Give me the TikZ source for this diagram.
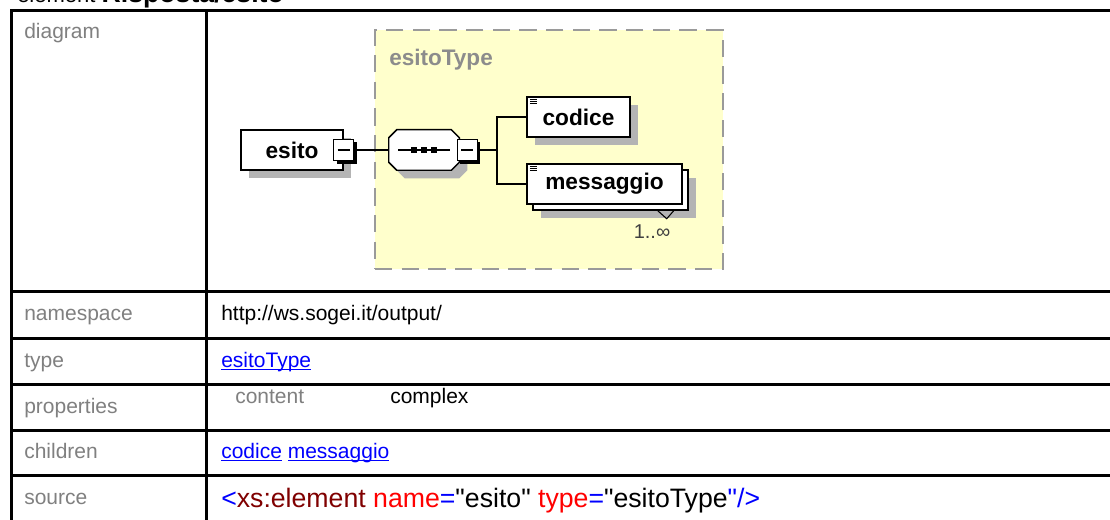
\documentclass[tikz,border=0pt]{standalone}
\usepackage{fontspec}
\setmainfont{Liberation Sans}[Ligatures=TeXOff]
\usetikzlibrary{shadows}
\definecolor{labelgray}{HTML}{808080}
\definecolor{typegray}{HTML}{8C8C8C}
\definecolor{linkblue}{HTML}{0000FF}
\definecolor{tagred}{HTML}{800000}
\definecolor{attrred}{HTML}{FF0000}
\definecolor{boxyellow}{HTML}{FFFFCC}
\definecolor{dashgray}{HTML}{9A9A9A}
\definecolor{shadowgray}{HTML}{B4B4B4}
\newcommand{\xlink}[1]{\textcolor{linkblue}{\setbox0\hbox{#1}\rlap{\rule[-2.5pt]{\wd0}{0.8pt}}\box0}}

\begin{document}
\begin{tikzpicture}[x=0.75pt,y=-0.75pt,
    every node/.style={font=\fontsize{15.75}{18}\selectfont},
    rowlabel/.style={anchor=base west, inner sep=0pt, text=labelgray},
    rowtext/.style={anchor=base west, inner sep=0pt},
    grid/.style={line width=2.25pt},
    wire/.style={line width=1pt},
    onshadow/.style={drop shadow={shadow xshift=#1, shadow yshift=-#1, fill=shadowgray, opacity=1}},
    topbox/.style={draw, line width=1.1pt, fill=white, inner sep=0pt, minimum height=30pt,
        font=\fontsize{17}{20}\selectfont\bfseries},
    elembox/.style={topbox, path picture={
        \foreach \k in {1.8pt,3.4pt,5pt}
            \draw[line width=0.6pt] ([shift={(2.2pt,-\k)}]path picture bounding box.north west) -- +(5pt,0);}},
    minusbox/.style={draw, line width=0.7pt, fill=white, inner sep=0pt, minimum width=15pt, minimum height=16pt,
        drop shadow={shadow xshift=2.2pt, shadow yshift=-2.2pt, fill=black, opacity=1},
        path picture={\draw[line width=0.8pt] ([xshift=3pt]path picture bounding box.west) -- ([xshift=-3pt]path picture bounding box.east);}},
    seqbox/.style={inner sep=0pt, minimum width=52.5pt, minimum height=30pt},
    typebox/.style={draw=dashgray, line width=1.6pt, dash pattern=on 13pt off 7pt, fill=boxyellow}
]
\fill[white] (0,0) rectangle (1110,520);
\useasboundingbox (0,0) rectangle (1110,520);

\node[anchor=base west, inner sep=0pt, font=\fontsize{16.5}{18}\selectfont] (caption) at (17,3) {element \textbf{\fontsize{20}{22}\selectfont Risposta/esito}};

\draw[grid] (10,11) -- (1120,11);
\draw[grid] (11,10) -- (11,530);
\draw[grid] (206,10) -- (206,530);
\draw[grid] (10,292) -- (1120,292);
\draw[grid] (10,338) -- (1120,338);
\draw[grid] (10,384) -- (1120,384);
\draw[grid] (10,430) -- (1120,430);
\draw[grid] (10,475) -- (1120,475);

\node[rowlabel] (ldiagram) at (24,39) {diagram};
\node[rowlabel] (lnamespace) at (24,320.5) {namespace};
\node[rowlabel] (ltype) at (24,367) {type};
\node[rowlabel] (lproperties) at (24,413) {properties};
\node[rowlabel] (lchildren) at (24,458) {children};
\node[rowlabel] (lsource) at (24,504) {source};

\node[rowtext] (vnamespace) at (221,320.5) {http://ws.sogei.it/output/};
\node[rowtext] (vtype) at (221,367) {\xlink{esitoType}};
\node[rowtext, text=labelgray] (vcontentkey) at (235,403) {content};
\node[rowtext] (vcontent) at (390,403) {complex};
\node[rowtext] (vchildren) at (221,458) {\xlink{codice} \xlink{messaggio}};
\node[rowtext, font=\fontsize{20}{24}\selectfont] (vsource) at (221,507) {\textcolor{linkblue}{<}\textcolor{tagred}{xs:element} \textcolor{attrred}{name}\textcolor{linkblue}{=}"esito" \textcolor{attrred}{type}\textcolor{linkblue}{=}"esitoType\textcolor{linkblue}{"/>}};

\node[typebox, minimum width=261pt, minimum height=179.25pt] (typebg) at (549,149.5) {};
\node[anchor=base west, inner sep=0pt, text=typegray, font=\fontsize{16.9}{20}\selectfont\bfseries] (typename) at (389,66) {esitoType};

\node[topbox, onshadow=6pt, minimum width=76.5pt] (esito) at (292,150) {esito\hspace{10pt}};
\node[minusbox] (esitominus) at (esito.east) {};
\node[seqbox] (seq) at (424,150) {};
\path[draw, line width=1.1pt, fill=white, onshadow=6pt] ([xshift=6pt]seq.north west) -- ([xshift=-6pt]seq.north east) -- ([yshift=-6pt]seq.north east) -- ([yshift=6pt]seq.south east) -- ([xshift=-6pt]seq.south east) -- ([xshift=6pt]seq.south west) -- ([yshift=6pt]seq.south west) -- ([yshift=-6pt]seq.north west) -- cycle;
\draw[line width=0.9pt] ([xshift=7pt]seq.west) -- ([xshift=-7pt]seq.east);
\fill ([xshift=-7.5pt]seq.center) +(-2.2pt,-2.2pt) rectangle +(2.2pt,2.2pt);
\fill (seq.center) +(-2.2pt,-2.2pt) rectangle +(2.2pt,2.2pt);
\fill ([xshift=7.5pt]seq.center) +(-2.2pt,-2.2pt) rectangle +(2.2pt,2.2pt);
\node[minusbox, anchor=west] (seqminus) at ([xshift=-2pt]seq.east) {};
\coordinate (branch) at (497,150);
\node[elembox, onshadow=6pt, minimum width=77.25pt] (codice) at (578.5,117) {codice};
\node[elembox, onshadow=10.5pt, copy shadow={shadow xshift=4.5pt, shadow yshift=-4.5pt}, minimum width=116.25pt] (messaggio) at (604.5,184) {messaggio};
\draw[line width=0.8pt] ([shift={(-25,6)}]messaggio.south east) -- ++(9,8) -- ++(7,-8);
\node[font=\fontsize{15}{17}\selectfont, text=black!75] (card) at (652,232) {1..∞};

\draw[wire] (esitominus) -- (seq);
\draw[wire] (seqminus) -- (branch);
\draw[wire] (codice.west) -| (branch) |- (messaggio.west);

\end{tikzpicture}
\end{document}
